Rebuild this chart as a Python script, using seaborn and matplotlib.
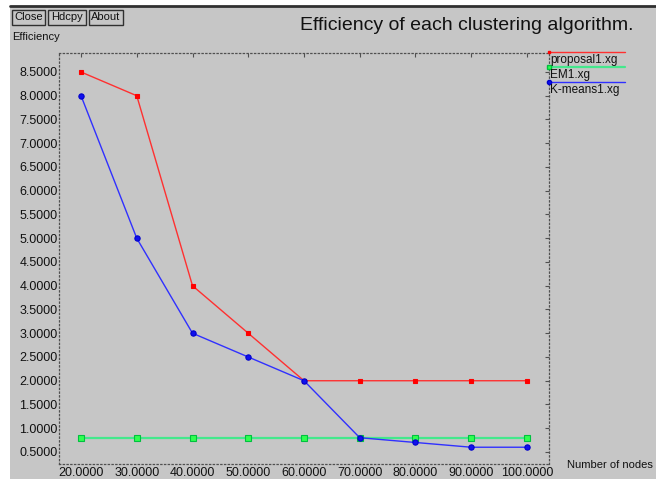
import matplotlib
matplotlib.use("Agg")
import matplotlib.pyplot as plt
import seaborn as sns
import pandas as pd
from matplotlib.patches import Rectangle
from matplotlib.lines import Line2D

nodes = [20, 30, 40, 50, 60, 70, 80, 90, 100]
proposal = [8.5, 8.0, 4.0, 3.0, 2.0, 2.0, 2.0, 2.0, 2.0]
em = [0.8, 0.8, 0.8, 0.8, 0.8, 0.8, 0.8, 0.8, 0.8]
kmeans = [8.0, 5.0, 3.0, 2.5, 2.0, 0.8, 0.7, 0.6, 0.6]
series_names = ["proposal1.xg", "EM1.xg", "K-means1.xg"]
xticks = [20, 30, 40, 50, 60, 70, 80, 90, 100]
yticks = [0.5, 1.0, 1.5, 2.0, 2.5, 3.0, 3.5, 4.0, 4.5, 5.0, 5.5, 6.0, 6.5, 7.0, 7.5, 8.0, 8.5]

sns.set_style("white")
plt.rcParams['font.family'] = ['Liberation Sans', 'DejaVu Sans']

W, H = 656, 479
BG = "#c6c6c6"
fig = plt.figure(figsize=(W / 100, H / 100), dpi=100, facecolor="white")

def fx(x):
    return x / W

def fy(y):
    return 1 - y / H

# gray window background
fig.patches.append(Rectangle((fx(10), 0), 1 - fx(10), fy(7), transform=fig.transFigure,
                             facecolor=BG, edgecolor="none", zorder=-10))
fig.lines.append(Line2D([fx(10), 1], [fy(6), fy(6)], transform=fig.transFigure,
                        color="#303030", lw=2, zorder=-5))

ax = fig.add_axes([fx(59), fy(464), fx(549) - fx(59), fy(53) - fy(464)])
ax.set_facecolor(BG)

df = pd.DataFrame({"nodes": nodes * 3,
                   "eff": proposal + em + kmeans,
                   "series": [series_names[0]] * 9 + [series_names[1]] * 9 + [series_names[2]] * 9})

styles = {
    series_names[0]: dict(color="#ff3030", marker="s", markersize=2.6, lw=1.0, mfc="#ff0000", mec="#ff0000"),
    series_names[1]: dict(color="#44e88c", marker="s", markersize=3.8, lw=1.6, mfc="#30ff50", mec="#00c040"),
    series_names[2]: dict(color="#3030ff", marker="o", markersize=3.8, lw=1.0, mfc="#1010ee", mec="#0000cc"),
}
for name in [series_names[1], series_names[0], series_names[2]]:
    st = styles[name]
    sns.lineplot(data=df[df.series == name], x="nodes", y="eff", ax=ax, color=st["color"],
                 lw=st["lw"], marker=st["marker"], markersize=st["markersize"],
                 markerfacecolor=st["mfc"], markeredgecolor=st["mec"], markeredgewidth=0.8,
                 legend=False, errorbar=None)

ax.set_xlim(16.05, 103.95)
ax.set_ylim(0.247, 8.9)
ax.set_xticks(xticks)
ax.set_yticks(yticks)
ax.set_xticklabels([f"{v:.4f}" for v in xticks])
ax.set_yticklabels([f"{v:.4f}" for v in yticks])
ax.set_xlabel("")
ax.set_ylabel("")
ax.tick_params(axis="both", direction="in", length=3, width=0.8, color="#505050",
               labelsize=9, labelcolor="#111111", top=True, right=True, pad=2)
ax.tick_params(axis="y", pad=1)
for sp in ax.spines.values():
    sp.set_visible(True)
    sp.set_color("#505050")
    sp.set_linewidth(0.9)
    sp.set_linestyle((0, (1, 2)))

# legend (xgraph style) to the right of the plot
leg_y = [52, 67, 82]
for name, y in zip(series_names, leg_y):
    st = styles[name]
    fig.lines.append(Line2D([fx(549), fx(625)], [fy(y), fy(y)], transform=fig.transFigure,
                            color=st["color"], lw=st["lw"]))
    fig.lines.append(Line2D([fx(549)], [fy(y)], transform=fig.transFigure, color=st["color"],
                            marker=st["marker"], markersize=st["markersize"] * 0.8,
                            mfc=st["mfc"], mec=st["mec"], lw=0))
    fig.text(fx(550), fy(y + 8), name, fontsize=8.5, color="#111111", ha="left", va="center")

# title and axis labels
fig.text(fx(634), fy(30), "Efficiency of each clustering algorithm.", fontsize=14,
         color="#111111", ha="right", va="baseline")
fig.text(fx(12), fy(37), "Efficiency", fontsize=8, color="#111111", ha="left", va="center")
fig.text(fx(567), fy(465), "Number of nodes", fontsize=8, color="#111111", ha="left", va="center")

# buttons
buttons = [("Close", 12, 45), ("Hdcpy", 48, 86), ("About", 89, 123)]
for label, x0, x1 in buttons:
    fig.patches.append(Rectangle((fx(x0), fy(25)), fx(x1) - fx(x0), fy(10) - fy(25),
                                 transform=fig.transFigure, facecolor=BG,
                                 edgecolor="#303030", lw=1.0))
    fig.text(fx((x0 + x1) / 2), fy(17.5), label, fontsize=8, color="#111111",
             ha="center", va="center")

fig.savefig("out.png", dpi=100, facecolor=fig.get_facecolor())
